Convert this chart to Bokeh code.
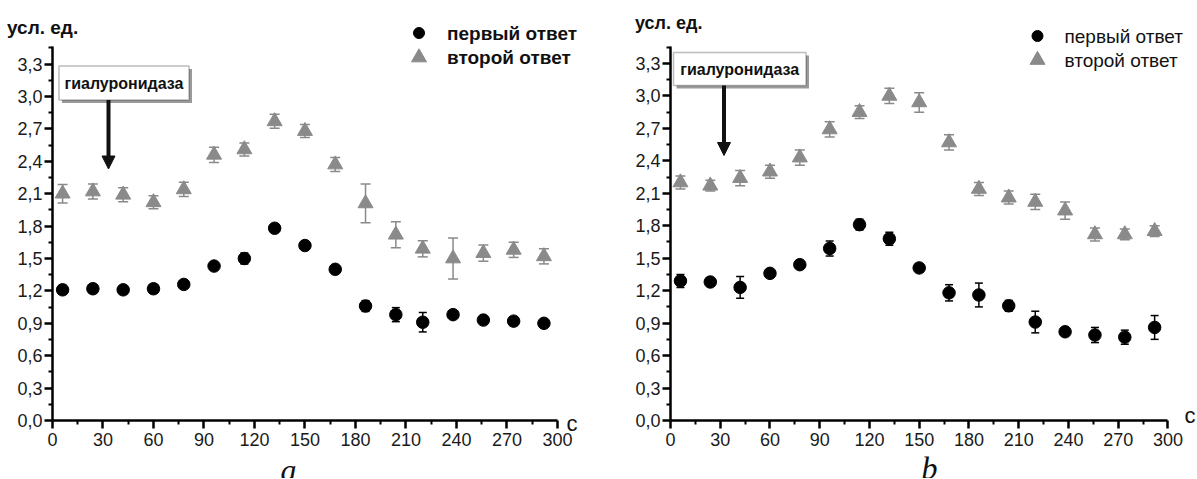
from bokeh.plotting import figure
from bokeh.layouts import row
from bokeh.models import (Range1d, FixedTicker, CustomJSTickFormatter, Whisker, TeeHead,
                          ColumnDataSource, Label, BoxAnnotation, Arrow, NormalHead)
from bokeh.embed import file_html
from bokeh.resources import INLINE

# ---------------- data ----------------
time_s = [6, 24, 42, 60, 78, 96, 114, 132, 150, 168, 186, 204, 220, 238, 256, 274, 292]

a_first = [1.21, 1.22, 1.21, 1.22, 1.26, 1.43, 1.50, 1.78, 1.62, 1.40, 1.06, 0.98, 0.91, 0.98, 0.93, 0.92, 0.90]
a_first_err = [0.04, 0.03, 0.03, 0.03, 0.03, 0.03, 0.05, 0.02, 0.03, 0.03, 0.05, 0.065, 0.09, 0.03, 0.03, 0.04, 0.03]
a_second = [2.10, 2.12, 2.09, 2.02, 2.14, 2.46, 2.51, 2.77, 2.68, 2.37, 2.01, 1.72, 1.59, 1.50, 1.55, 1.58, 1.52]
a_second_err = [0.085, 0.07, 0.065, 0.06, 0.065, 0.07, 0.06, 0.065, 0.06, 0.065, 0.18, 0.12, 0.075, 0.19, 0.075, 0.07, 0.07]

b_first = [1.29, 1.28, 1.23, 1.36, 1.44, 1.59, 1.81, 1.68, 1.41, 1.18, 1.16, 1.06, 0.91, 0.82, 0.79, 0.77, 0.86]
b_first_err = [0.06, 0.03, 0.10, 0.03, 0.03, 0.07, 0.05, 0.06, 0.03, 0.075, 0.11, 0.05, 0.10, 0.03, 0.07, 0.065, 0.11]
b_second = [2.20, 2.17, 2.24, 2.30, 2.43, 2.69, 2.85, 3.00, 2.94, 2.57, 2.14, 2.06, 2.02, 1.94, 1.72, 1.72, 1.75]
b_second_err = [0.06, 0.05, 0.07, 0.06, 0.07, 0.07, 0.06, 0.07, 0.09, 0.07, 0.06, 0.06, 0.07, 0.08, 0.06, 0.05, 0.05]

y_ticks = [0.0, 0.3, 0.6, 0.9, 1.2, 1.5, 1.8, 2.1, 2.4, 2.7, 3.0, 3.3]
x_ticks = [0, 30, 60, 90, 120, 150, 180, 210, 240, 270, 300]
series_names = ["первый ответ", "второй ответ"]
y_unit_label = "усл. ед."
x_unit_label = "с"
enzyme_label = "гиалуронидаза"
panel_captions = ["a", "b"]

# ---------------- layout (canvas pixel positions) ----------------
HEIGHT = 478
ZERO_Y = 420.0  # canvas y of value 0
FONT = "Liberation Sans"
GREY = "#8a8a8a"

panels = [
    dict(width=597, page_x0=0, axis_x=52.0, px_x=1.683, px_y=108.0, legend_bold=True,
         first=a_first, first_err=a_first_err, second=a_second, second_err=a_second_err,
         caption=panel_captions[0],
         legend_marker_x=418.5, legend_text_x=446.5, legend_y=(32.5, 57.0), legend_size="19px",
         unit_x=6.5, unit_y=27.0, unit_size="19px",
         box=(58.5, 188.5, 65.5, 99.5), arrow_x=108.0, arrow_tip=168.5,
         unit_c=(566.0, 423.0), caption_pos=(288.0, 469.0)),
    dict(width=599, page_x0=597, axis_x=670.0, px_x=1.658, px_y=108.2, legend_bold=False,
         first=b_first, first_err=b_first_err, second=b_second, second_err=b_second_err,
         caption=panel_captions[1],
         legend_marker_x=1037.0, legend_text_x=1064.0, legend_y=(35.5, 59.5), legend_size="19px",
         unit_x=634.5, unit_y=22.0, unit_size="18px",
         box=(673.0, 805.5, 52.0, 85.0), arrow_x=723.5, arrow_tip=155.0,
         unit_c=(1184.0, 415.0), caption_pos=(929.0, 467.5)),
]


def make_panel(cfg):
    x0 = cfg["page_x0"]
    px_x, px_y = cfg["px_x"], cfg["px_y"]

    def dx(px):
        return (px - cfg["axis_x"]) / px_x

    def dy(py):
        return (ZERO_Y - py) / px_y

    p = figure(width=cfg["width"], height=HEIGHT, output_backend="svg", toolbar_location=None,
               x_range=Range1d(dx(x0), dx(x0 + cfg["width"])),
               y_range=Range1d(dy(HEIGHT), dy(0)),
               min_border_left=0, min_border_right=0, min_border_top=0,
               min_border_bottom=0, outline_line_color=None,
               background_fill_color="white", border_fill_color="white")
    p.grid.visible = False

    # axes, pinned at the value 0 inside the frame
    for ax in (p.xaxis[0], p.yaxis[0]):
        ax.fixed_location = 0
        ax.axis_line_width = 2.5
        ax.axis_line_color = "black"
        ax.major_tick_out = 8
        ax.major_tick_in = 0
        ax.major_tick_line_width = 2.5
        ax.minor_tick_out = 4
        ax.minor_tick_in = 0
        ax.minor_tick_line_width = 2
        ax.major_label_text_font = FONT
        ax.major_label_text_font_size = "18px"
        ax.major_label_text_color = "#1a1a1a"
    p.yaxis.ticker = FixedTicker(ticks=y_ticks, minor_ticks=[t + 0.15 for t in y_ticks])
    p.yaxis.formatter = CustomJSTickFormatter(code="return tick.toFixed(1).replace('.', ',');")
    p.yaxis.bounds = (0, 3.46)
    p.yaxis.major_label_standoff = 2
    p.xaxis.ticker = FixedTicker(ticks=x_ticks, minor_ticks=[t + 15 for t in x_ticks[:-1]])
    p.xaxis.bounds = (0, 300)
    p.xaxis.major_label_standoff = 4

    # error bars
    specs = [(cfg["first"], cfg["first_err"], "black", 8),
             (cfg["second"], cfg["second_err"], GREY, 10)]
    for vals, errs, col, cap in specs:
        src = ColumnDataSource(dict(x=time_s,
                                    lo=[v - e for v, e in zip(vals, errs)],
                                    hi=[v + e for v, e in zip(vals, errs)]))
        w = Whisker(source=src, base="x", lower="lo", upper="hi", line_color=col, line_width=1.5,
                    upper_head=TeeHead(size=cap, line_color=col, line_width=1.5),
                    lower_head=TeeHead(size=cap, line_color=col, line_width=1.5))
        w.level = "underlay"
        p.add_layout(w)

    p.scatter(time_s, cfg["second"], marker="triangle", size=15, color=GREY)
    p.scatter(time_s, cfg["first"], marker="circle", size=12.5, color="black")

    # legend
    ly1, ly2 = cfg["legend_y"]
    p.scatter([dx(cfg["legend_marker_x"])], [dy(ly1)], marker="circle", size=11, color="black")
    p.scatter([dx(cfg["legend_marker_x"])], [dy(ly2)], marker="triangle", size=15, color=GREY)
    style = "bold" if cfg["legend_bold"] else "normal"
    for name, ly in zip(series_names, (ly1, ly2)):
        p.add_layout(Label(x=dx(cfg["legend_text_x"]), y=dy(ly), text=name, text_font=FONT,
                           text_font_size=cfg["legend_size"], text_font_style=style,
                           text_baseline="middle", text_align="left", text_color="#111111"))

    # y unit label
    p.add_layout(Label(x=dx(cfg["unit_x"]), y=dy(cfg["unit_y"]), text=y_unit_label, text_font=FONT,
                       text_font_size=cfg["unit_size"], text_font_style="bold",
                       text_baseline="middle", text_align="left", text_color="#111111"))
    # x unit label
    cx, cy = cfg["unit_c"]
    p.add_layout(Label(x=dx(cx), y=dy(cy), text=x_unit_label, text_font=FONT,
                       text_font_size="22px", text_baseline="middle", text_align="left",
                       text_color="#111111"))

    # enzyme box with shadow and arrow
    bl, br, bt, bb = cfg["box"]
    p.add_layout(BoxAnnotation(left=dx(bl + 3), right=dx(br + 3), top=dy(bt + 3), bottom=dy(bb + 3),
                               fill_color="#9a9a9a", fill_alpha=1, line_color=None))
    p.add_layout(BoxAnnotation(left=dx(bl), right=dx(br), top=dy(bt), bottom=dy(bb),
                               fill_color="white", fill_alpha=1, line_color="#222222",
                               line_width=1.5))
    p.add_layout(Label(x=dx((bl + br) / 2), y=dy((bt + bb) / 2), text=enzyme_label, text_font=FONT,
                       text_font_size="16px", text_font_style="bold", text_align="center",
                       text_baseline="middle", text_color="#111111"))
    p.add_layout(Arrow(x_start=dx(cfg["arrow_x"]), y_start=dy(bb), x_end=dx(cfg["arrow_x"]),
                       y_end=dy(cfg["arrow_tip"]), line_width=4, line_color="#111111",
                       end=NormalHead(size=13, fill_color="#111111", line_color="#111111")))

    # caption
    capx, capy = cfg["caption_pos"]
    p.add_layout(Label(x=dx(capx), y=dy(capy), text=cfg["caption"], text_font="Liberation Serif",
                       text_font_style="italic", text_font_size="32px", text_align="center",
                       text_baseline="alphabetic", text_color="#111111"))
    return p


figs = [make_panel(c) for c in panels]
layout = row(*figs, spacing=0)

open("out.html", "w").write(file_html(layout, INLINE))
